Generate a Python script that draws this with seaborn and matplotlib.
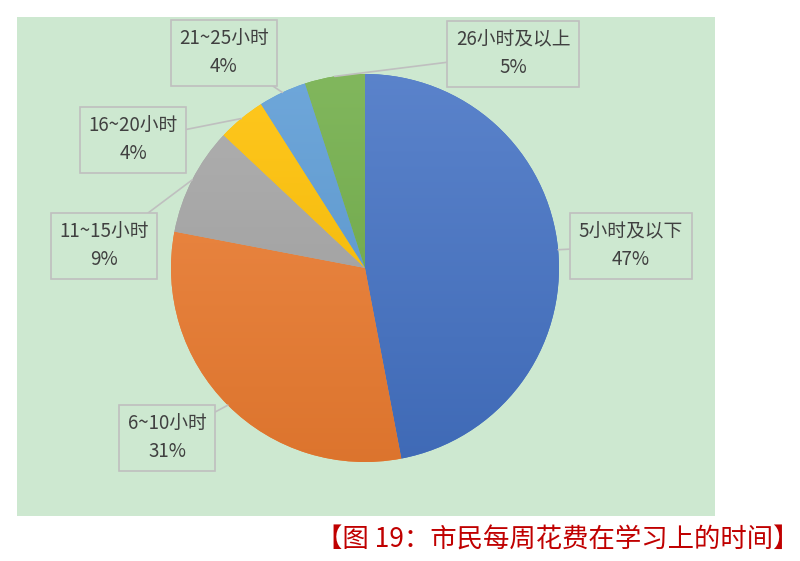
import numpy as np
import matplotlib.pyplot as plt
import matplotlib.colors as mcolors
import seaborn as sns

# data
labels = ["5小时及以下", "6~10小时", "11~15小时", "16~20小时", "21~25小时", "26小时及以上"]
shares = [47, 31, 9, 4, 4, 5]
pct_labels = ["47%", "31%", "9%", "4%", "4%", "5%"]
colors = ["#4472C4", "#ED7D31", "#A5A5A5", "#FFC000", "#5B9BD5", "#70AD47"]

# label box centres in figure pixels (from top-left)
box_px = [(631, 246), (167, 438), (104, 246), (133, 140), (224, 53), (513, 54)]

sns.set_theme(style="white")
plt.rcParams["font.family"] = ["Noto Sans CJK SC", "DejaVu Sans"]

W, H = 800, 561
fig = plt.figure(figsize=(W / 100, H / 100), dpi=100)
bg = "#CDE8D0"
fig.patches.append(plt.Rectangle((17 / W, (H - 516) / H), 698 / W, 499 / H,
                                 transform=fig.transFigure, facecolor=bg,
                                 edgecolor="none", zorder=-10))

cx, cy, r = 365, 268, 194
ax = fig.add_axes([(cx - r) / W, (H - cy - r) / H, 2 * r / W, 2 * r / H])
ax.set_facecolor("none")
wedges, _ = ax.pie(shares, colors=colors, startangle=90, counterclock=False,
                   radius=1, wedgeprops=dict(linewidth=0))
ax.axis("off")

# soft vertical gradient on every slice, like the office chart
ramp = np.linspace(0, 1, 256)[:, None]
for w, c in zip(wedges, colors):
    base = np.array(mcolors.to_rgb(c))
    top = base + (1 - base) * 0.12
    bot = base * 0.93
    img = top[None, None, :] * (1 - ramp[..., None]) + bot[None, None, :] * ramp[..., None]
    img = np.repeat(img, 4, axis=1)
    im = ax.imshow(img, extent=(-1, 1, -1, 1), origin="upper", zorder=2,
                   aspect="auto", interpolation="bilinear")
    im.set_clip_path(w)
ax.set_xlim(-1.0, 1.0)
ax.set_ylim(-1.0, 1.0)

for w, lab, pct, (bx, by) in zip(wedges, labels, pct_labels, box_px):
    mid = np.deg2rad((w.theta1 + w.theta2) / 2)
    ax.annotate(f"{lab}\n{pct}", xy=(np.cos(mid), np.sin(mid)), xycoords="data",
                xytext=(bx, H - by), textcoords="figure pixels",
                ha="center", va="center", fontsize=13.5, color="#404040",
                linespacing=1.4, zorder=5, annotation_clip=False,
                bbox=dict(boxstyle="square,pad=0.45", facecolor=bg,
                          edgecolor="#BFBFBF", linewidth=1.2),
                arrowprops=dict(arrowstyle="-", color="#BFBFBF", linewidth=1.2,
                                shrinkA=0, shrinkB=0))

fig.text(799 / W, (H - 540) / H, "【图 19：市民每周花费在学习上的时间】",
         ha="right", va="center", fontsize=19, color="#C00000")

fig.savefig("out.png", dpi=100)
